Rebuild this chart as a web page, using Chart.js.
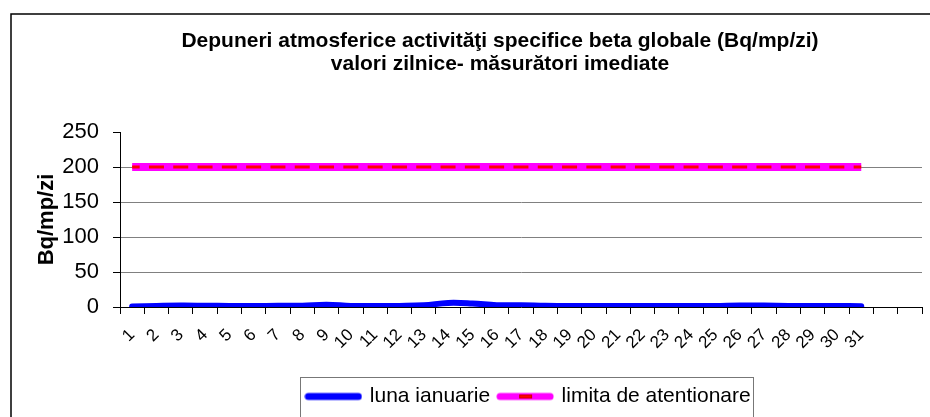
<!DOCTYPE html>
<html>
<head>
<meta charset="utf-8">
<script src="https://cdn.jsdelivr.net/npm/chart.js@4.4.1/dist/chart.umd.min.js"></script>
<style>
  html, body { margin: 0; padding: 0; background: #fff; }
  #wrap { width: 930px; height: 417px; position: relative; }
</style>
</head>
<body>
<div id="wrap"><canvas id="chart"></canvas></div>
<script>
const days = ['1','2','3','4','5','6','7','8','9','10','11','12','13','14','15','16',
  '17','18','19','20','21','22','23','24','25','26','27','28','29','30','31','',''];
const januaryValues = [0.8, 1.5, 2, 1.8, 1.5, 1.5, 1.7, 1.8, 3.2, 1.5, 1.4, 1.6, 2.5, 5.8, 5,
  2.5, 2.5, 1.8, 1.5, 1.4, 1.4, 1.5, 1.5, 1.5, 1.5, 2.3, 2, 1.6, 1.5, 1.5, 1.2];
const limitValues = [200, 200, 200, 200, 200, 200, 200, 200, 200, 200, 200, 200, 200, 200, 200, 200,
  200, 200, 200, 200, 200, 200, 200, 200, 200, 200, 200, 200, 200, 200, 200];
const yTicks = [0, 50, 100, 150, 200, 250];
const seriesNames = ['luna ianuarie', 'limita de atentionare'];
const titleLines = ['Depuneri atmosferice activităţi specifice beta globale (Bq/mp/zi)',
  'valori zilnice- măsurători imediate'];
const yTitle = 'Bq/mp/zi';

const FONT = '"Liberation Sans", Arial, sans-serif';

// small pictures used as legend symbols
function legendSymbol(color, width, dash) {
    const c = document.createElement('canvas');
    c.width = 58;
    c.height = 10;
    const g = c.getContext('2d');
    g.strokeStyle = color;
    g.lineWidth = width;
    g.lineCap = 'round';
    g.beginPath();
    g.moveTo(4, 5);
    g.lineTo(54, 5);
    g.stroke();
    if (dash) {
        g.fillStyle = dash;
        g.fillRect(23, 3, 13, 4);
        g.strokeStyle = '#d00000';
        g.lineWidth = 1;
        g.strokeRect(23.5, 3.5, 12, 3);
    }
    return c;
}

const framePlugin = {
    id: 'frame',
    afterLayout(chart) {
        // legend row sits a little right of the plot centre
        chart.legend.left += 8;
        chart.legend.right += 8;
    },
    beforeDraw(chart) {
        const ctx = chart.ctx;
        ctx.save();
        ctx.fillStyle = '#fff';
        ctx.fillRect(0, 0, chart.width, chart.height);
        ctx.strokeStyle = '#000';
        ctx.lineWidth = 1.5;
        ctx.beginPath();
        ctx.moveTo(11, chart.height + 2);
        ctx.lineTo(11, 14);
        ctx.lineTo(chart.width + 2, 14);
        ctx.stroke();

        ctx.fillStyle = '#000';
        ctx.font = 'bold 21px ' + FONT;
        ctx.textAlign = 'center';
        ctx.textBaseline = 'middle';
        titleLines.forEach((t, i) => ctx.fillText(t, 500, 41 + i * 23));

        const hb = chart.legend.legendHitBoxes;
        if (hb && hb.length) {
            const first = hb[0], last = hb[hb.length - 1];
            const left = Math.round(first.left - 7) + 0.5;
            const right = Math.round(last.left + last.width + 2) + 0.5;
            const top = Math.round(first.top - 9.5) + 0.5;
            ctx.strokeStyle = '#777';
            ctx.lineWidth = 1;
            ctx.strokeRect(left, top, right - left, chart.height + 10 - top);
        }
        ctx.restore();
    }
};

new Chart(document.getElementById('chart').getContext('2d'), {
    type: 'line',
    data: {
        labels: days,
        datasets: [{
            label: seriesNames[0],
            data: januaryValues,
            order: 1,
            borderColor: '#0000ff',
            backgroundColor: '#0000ff',
            borderWidth: 6,
            borderCapStyle: 'round',
            borderJoinStyle: 'round',
            tension: 0.4,
            pointRadius: 0,
            pointStyle: legendSymbol('#0000ff', 7)
        }, {
            label: seriesNames[1],
            data: limitValues,
            order: 2,
            borderColor: '#ff00ff',
            backgroundColor: '#ff00ff',
            borderWidth: 8,
            borderCapStyle: 'butt',
            pointRadius: 0,
            pointStyle: legendSymbol('#ff00ff', 7, '#ff0000')
        }, {
            label: '',
            data: limitValues,
            order: 0,
            borderColor: '#ff0000',
            borderWidth: 3,
            borderDash: [15, 9.3],
            borderDashOffset: 7.5,
            pointRadius: 0
        }]
    },
    options: {
        responsive: true,
        maintainAspectRatio: false,
        animation: false,
        devicePixelRatio: 1,
        layout: { padding: { left: 0, right: 8, top: 132, bottom: 0 } },
        plugins: {
            title: { display: false },
            tooltip: { enabled: false },
            legend: {
                position: 'bottom',
                fullSize: false,
                labels: {
                    usePointStyle: true,
                    pointStyleWidth: 52,
                    boxHeight: 10,
                    padding: 9,
                    color: '#000',
                    font: { family: FONT, size: 21, lineHeight: 1 },
                    filter: item => item.text !== ''
                }
            }
        },
        scales: {
            x: {
                offset: true,
                grid: {
                    offset: true,
                    drawOnChartArea: false,
                    tickLength: 7,
                    tickColor: '#000'
                },
                border: { color: '#000', width: 1 },
                ticks: {
                    autoSkip: false,
                    minRotation: 45,
                    maxRotation: 45,
                    padding: 11,
                    color: '#000',
                    font: { family: FONT, size: 17 }
                },
                afterFit(scale) {
                    scale.height = 70;
                    scale.paddingLeft = 0;
                    scale.paddingRight = 0;
                }
            },
            y: {
                min: 0,
                max: 250,
                afterBuildTicks(scale) { scale.ticks = yTicks.map(v => ({ value: v })); },
                grid: {
                    color: c => (c.tick && (c.tick.value === 0 || c.tick.value === 250)) ? 'rgba(0,0,0,0)' : '#808080',
                    tickLength: 7,
                    tickColor: '#000'
                },
                border: { color: '#000', width: 1 },
                ticks: {
                    padding: 14,
                    color: '#000',
                    font: { family: FONT, size: 22 }
                },
                title: {
                    display: true,
                    text: yTitle,
                    color: '#000',
                    padding: { top: 34, bottom: 0 },
                    font: { family: FONT, size: 22, weight: 'bold' }
                },
                afterFit(scale) { scale.width = 120; }
            }
        }
    },
    plugins: [framePlugin]
});
</script>
</body>
</html>
